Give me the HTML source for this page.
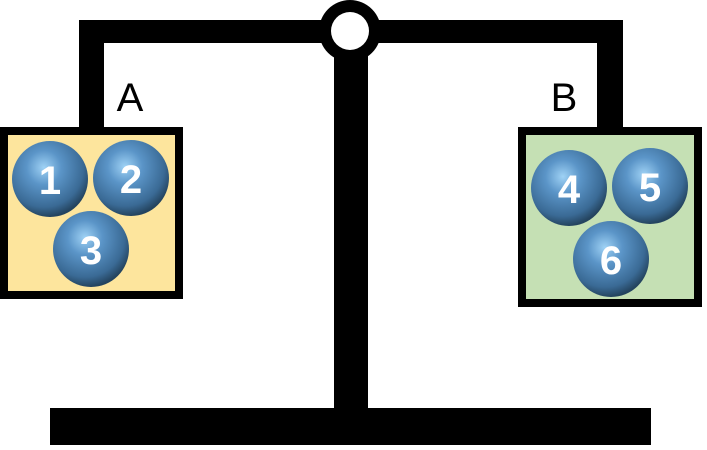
<!DOCTYPE html><html><head><style>body{margin:0;background:#fff}</style></head><body>
<svg width="707" height="445" xmlns="http://www.w3.org/2000/svg">
<defs><radialGradient id="g" cx="0.42" cy="0.35" r="0.65"><stop offset="0" stop-color="#9fd2f5"/><stop offset="0.35" stop-color="#5b95c8"/><stop offset="0.8" stop-color="#3a6a95"/><stop offset="1" stop-color="#24445f"/></radialGradient></defs>
<rect x="79" y="20" width="544" height="23" fill="#000"/>
<rect x="79" y="20" width="25" height="110" fill="#000"/>
<rect x="597" y="20" width="26" height="110" fill="#000"/>
<rect x="334" y="40" width="34" height="372" fill="#000"/>
<rect x="50" y="408" width="601" height="37" fill="#000"/>
<circle cx="350" cy="31" r="31" fill="#000"/><circle cx="350" cy="31" r="19" fill="#fff"/>
<rect x="4" y="131" width="175" height="164" fill="#fde59d" stroke="#000" stroke-width="8"/>
<rect x="522" y="131" width="176" height="172" fill="#c5e0b4" stroke="#000" stroke-width="8"/>
<g font-family="Liberation Sans, sans-serif" font-size="40" text-anchor="middle"><text x="130" y="111">A</text><text x="564" y="111">B</text></g>
<g fill="url(#g)"><circle cx="50" cy="179" r="38"/><circle cx="131" cy="178" r="38"/><circle cx="91" cy="249" r="38"/><circle cx="569" cy="188" r="38"/><circle cx="650" cy="186" r="38"/><circle cx="611" cy="259" r="38"/></g>
<g font-family="Liberation Sans, sans-serif" font-weight="bold" font-size="40" fill="#fff" text-anchor="middle"><text x="50" y="194">1</text><text x="131" y="193">2</text><text x="91" y="264">3</text><text x="569" y="203">4</text><text x="650" y="201">5</text><text x="611" y="274">6</text></g>
</svg></body></html>
